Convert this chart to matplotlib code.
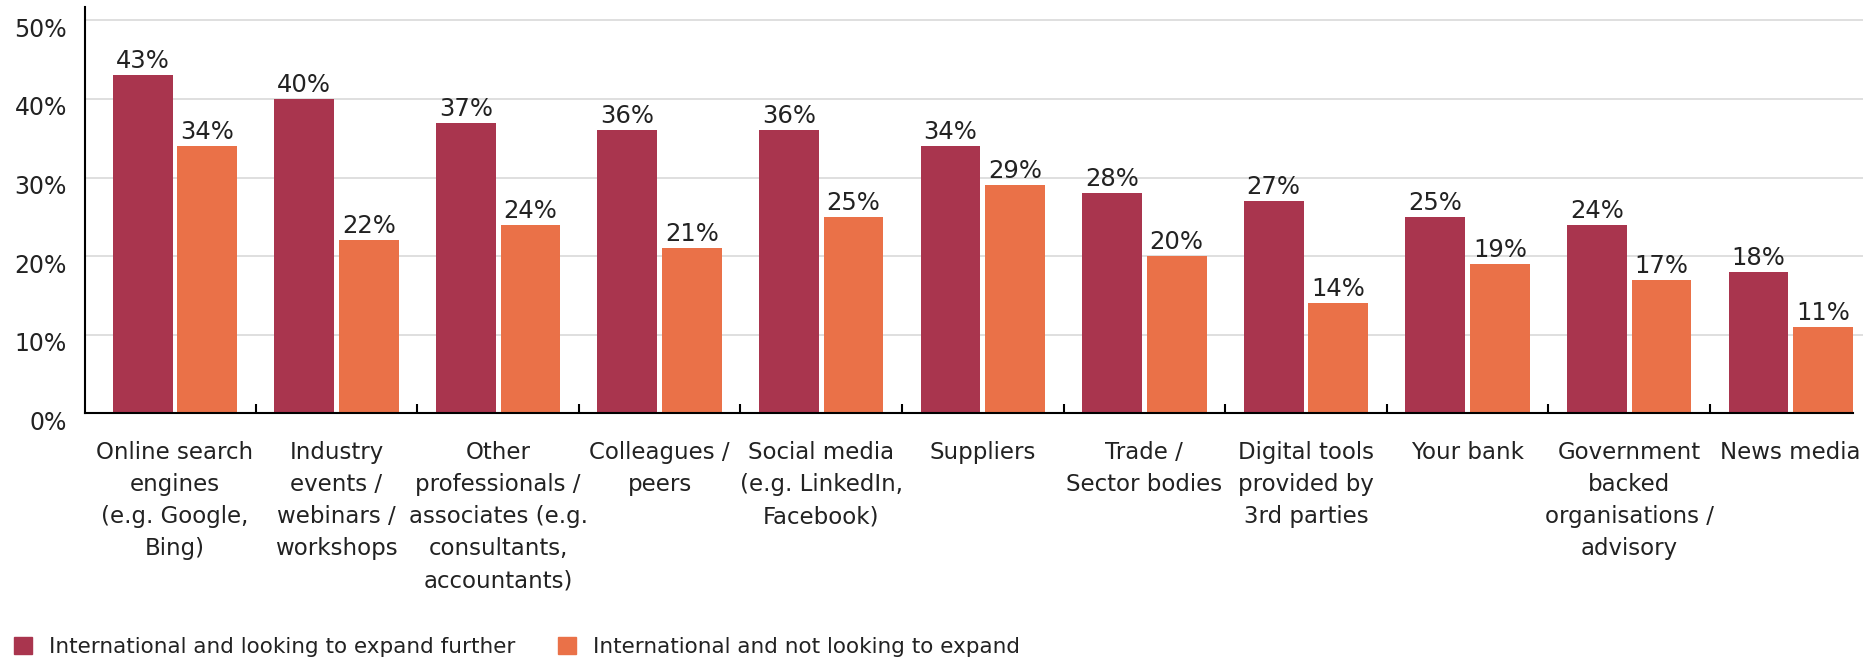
import matplotlib

matplotlib.use("Agg")
import matplotlib.pyplot as plt
import matplotlib.transforms as mtransforms
import numpy as np
from matplotlib.patches import Patch

categories = [
    "Online search\nengines\n(e.g. Google,\nBing)",
    "Industry\nevents /\nwebinars /\nworkshops",
    "Other\nprofessionals /\nassociates (e.g.\nconsultants,\naccountants)",
    "Colleagues /\npeers",
    "Social media\n(e.g. LinkedIn,\nFacebook)",
    "Suppliers",
    "Trade /\nSector bodies",
    "Digital tools\nprovided by\n3rd parties",
    "Your bank",
    "Government\nbacked\norganisations /\nadvisory",
    "News media",
]
expanding = [43, 40, 37, 36, 36, 34, 28, 27, 25, 24, 18]
not_expanding = [34, 22, 24, 21, 25, 29, 20, 14, 19, 17, 11]
series_names = [
    "International and looking to expand further",
    "International and not looking to expand",
]
y_ticks = [0, 10, 20, 30, 40, 50]

RED = "#A9354E"
ORANGE = "#EA7148"
TEXT = "#222222"

plt.rcParams["font.family"] = ["DejaVu Sans Condensed", "Liberation Sans Narrow",
                               "DejaVu Sans"]
plt.rcParams["text.color"] = TEXT

fig = plt.figure(figsize=(18.63, 6.59), dpi=100)
ax = fig.add_axes([0.0456, 0.3728, 0.949, 0.6166])

x = np.arange(len(categories))
width = 0.37
offset = 0.2
bars_a = ax.bar(x - offset, expanding, width, color=RED, zorder=3)
bars_b = ax.bar(x + offset, not_expanding, width, color=ORANGE, zorder=3)

for bars, vals in ((bars_a, expanding), (bars_b, not_expanding)):
    for b, v in zip(bars, vals):
        ax.annotate(f"{v}%", (b.get_x() + b.get_width() / 2, v),
                    xytext=(0, 5), textcoords="offset points",
                    ha="center", va="baseline", fontsize=17.5, color=TEXT)

ax.set_xlim(-0.557, 10.385)
ax.set_ylim(0, 51.7)

# gridlines run a touch past the right end of the axis
for yv in y_ticks[1:]:
    ax.axhline(yv, xmin=0, xmax=1.006, color="#D9D9D9", lw=1.2,
               zorder=1, clip_on=False)

ax.set_yticks(y_ticks, [f"{v}%" for v in y_ticks])
ax.tick_params(axis="y", length=0, pad=13, labelsize=17, labelcolor=TEXT)
shift = mtransforms.ScaledTranslation(0, -7 / 100, fig.dpi_scale_trans)
for lbl in ax.get_yticklabels():
    lbl.set_transform(lbl.get_transform() + shift)

# group separators as major ticks, category names on minor ticks
ax.set_xticks(x[:-1] + 0.5)
ax.set_xticklabels([])
ax.tick_params(axis="x", which="major", direction="in", length=6.5,
               width=1.5, color="black")
ax.set_xticks(x, categories, minor=True)
ax.tick_params(axis="x", which="minor", length=0, pad=20, labelsize=16.5,
               labelcolor=TEXT)
for lbl in ax.get_xticklabels(minor=True):
    lbl.set_linespacing(1.5)

for side in ("top", "right"):
    ax.spines[side].set_visible(False)
ax.spines["left"].set_linewidth(1.5)
ax.spines["bottom"].set_linewidth(1.5)
ax.spines["left"].set_zorder(4)
ax.spines["bottom"].set_zorder(4)

handles = [Patch(color=RED), Patch(color=ORANGE)]
fig.legend(handles, series_names, loc="center left",
           bbox_to_anchor=(0.003, 0.018), ncol=2, frameon=False,
           fontsize=15.5, handlelength=0.85, handleheight=0.85,
           handletextpad=0.75, columnspacing=2.0, borderaxespad=0)

fig.savefig("out.png", dpi=100)
